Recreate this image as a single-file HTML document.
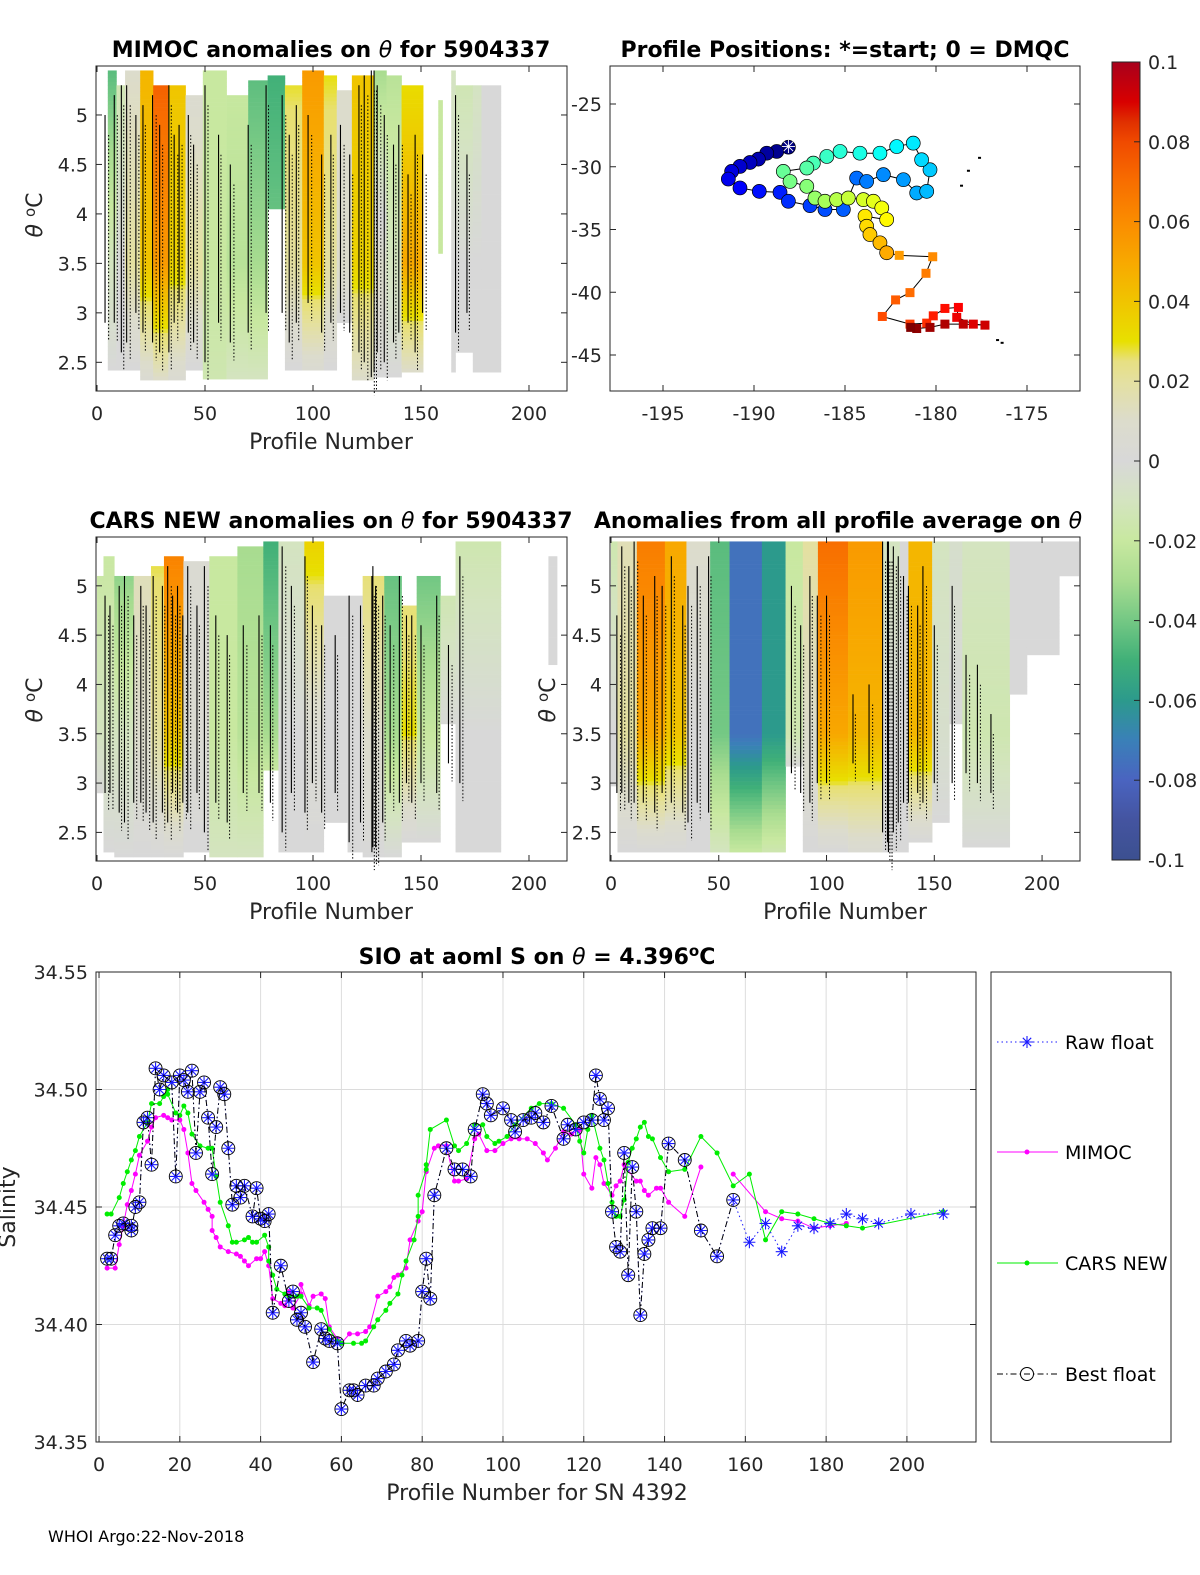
<!DOCTYPE html>
<html><head><meta charset="utf-8">
<style>
html,body{margin:0;padding:0;background:#fff;overflow:hidden;width:1200px;height:1575px;}
svg{display:block;font-family:"DejaVu Sans","Liberation Sans",sans-serif;}
.t{font-size:22px;font-weight:bold;fill:#000;}
.tk{font-size:19px;fill:#262626;}
.lb{font-size:22px;fill:#262626;}
</style></head>
<body>
<svg id="fig" width="1200" height="1575" viewBox="0 0 1200 1575" xmlns="http://www.w3.org/2000/svg">
<defs>
<linearGradient id="cbg" x1="0" y1="1" x2="0" y2="0"></linearGradient>
</defs>
<g id="p1"></g>
<g id="p2"></g>
<g id="p3"></g>
<g id="p4"></g>
<g id="p5"></g>
<g id="cb"></g>

<text class="t" x="331" y="57" text-anchor="middle">MIMOC anomalies on <tspan font-style="italic" font-weight="normal">θ</tspan>  for 5904337</text>
<text class="t" x="845" y="57" text-anchor="middle">Profile Positions: *=start; 0 = DMQC</text>
<text class="t" x="331" y="528" text-anchor="middle">CARS NEW anomalies on <tspan font-style="italic" font-weight="normal">θ</tspan> for 5904337</text>
<text class="t" x="838" y="528" text-anchor="middle">Anomalies from all profile average on <tspan font-style="italic" font-weight="normal">θ</tspan></text>
<text class="t" x="537" y="964" text-anchor="middle">SIO at aoml S on <tspan font-style="italic" font-weight="normal">θ</tspan> = 4.396<tspan dy="-8" font-size="15">o</tspan><tspan dy="8">C</tspan></text>

<text class="lb" x="331" y="449" text-anchor="middle">Profile Number</text>
<text class="lb" x="331" y="919" text-anchor="middle">Profile Number</text>
<text class="lb" x="845" y="919" text-anchor="middle">Profile Number</text>
<text class="lb" x="537" y="1500" text-anchor="middle">Profile Number for SN 4392</text>
<text class="lb" transform="translate(42,215) rotate(-90)" text-anchor="middle"><tspan font-style="italic">θ</tspan> <tspan dy="-7" font-size="15">o</tspan><tspan dy="7">C</tspan></text>
<text class="lb" transform="translate(42,700) rotate(-90)" text-anchor="middle"><tspan font-style="italic">θ</tspan> <tspan dy="-7" font-size="15">o</tspan><tspan dy="7">C</tspan></text>
<text class="lb" transform="translate(555,700) rotate(-90)" text-anchor="middle"><tspan font-style="italic">θ</tspan> <tspan dy="-7" font-size="15">o</tspan><tspan dy="7">C</tspan></text>
<text class="lb" transform="translate(15,1207) rotate(-90)" text-anchor="middle">Salinity</text>
<text x="48" y="1542" font-size="16" fill="#000">WHOI Argo:22-Nov-2018</text>
</svg>

<script>
// ---------- heatmap data: [p0,p1,thetaTop,thetaBot,anomTop,anomMid,anomBot] ----------
const h1Groups = [
[5,9,5.45,2.42,-0.045,-0.01,0],[9,13,5.3,2.42,-0.015,0.0,0],[13,20,5.45,2.42,0.01,0.02,0.0],
[20,26,5.45,2.32,0.045,0.04,0.005],[26,33,5.3,2.32,0.075,0.055,0.01],[33,41,5.3,2.32,0.04,0.035,0.005],
[41,49,5.2,2.42,0.005,0.02,0.0],[49,60,5.45,2.33,-0.02,-0.02,-0.015],[60,70,5.2,2.33,-0.02,-0.025,-0.01],
[70,79,5.35,2.33,-0.045,-0.03,-0.01],[79,87,5.4,4.05,-0.05,-0.04,-0.04],[87,95,5.3,2.42,0.03,0.02,0.0],
[95,105,5.45,2.42,0.055,0.04,0.005],[105,111,5.4,2.42,0.03,0.02,0.0],[111,118,5.25,2.9,0.01,0.01,0],
[118,128,5.4,2.32,0.04,0.035,0.01],[128,134,5.45,2.35,-0.03,0.01,0.0],[134,141,5.4,2.35,-0.025,-0.01,0],
[141,151,5.3,2.4,0.03,0.05,0.01],[158,160,5.15,3.6,-0.02,-0.02,-0.02],[164,166,5.45,2.4,-0.01,0.0,0.0],
[166,174,5.3,2.6,-0.015,0,0],[174,178,5.3,2.4,-0.01,0,0],[178,187,5.3,2.4,0,0,0]];
const h3Groups = [
[0,3,5.1,2.9,-0.02,-0.01,0],[3,8,5.3,2.3,-0.02,-0.01,0],[8,17,5.1,2.25,-0.04,-0.01,0],
[17,25,5.1,2.25,0.015,0.01,0],[25,31,5.2,2.25,0.03,0.02,0],[31,40,5.3,2.25,0.065,0.04,0.0],
[40,52,5.25,2.3,0.005,0.005,0],[52,65,5.3,2.25,-0.02,-0.02,-0.01],[65,77,5.4,2.25,-0.03,-0.025,-0.01],
[77,84,5.45,3.13,-0.05,-0.03,-0.02],[84,96,5.45,2.3,-0.01,0,0],[96,105,5.45,2.3,0.035,0.005,0],
[105,116,4.9,2.6,0,0,0],[116,123,4.9,2.3,0,0,0],[123,133,5.1,2.25,0.03,0.01,0],
[133,141,5.1,2.25,-0.045,-0.03,0],[141,148,4.8,2.4,0.025,0.03,0],[148,159,5.1,2.4,-0.045,-0.02,0],
[159,166,4.9,3.6,-0.02,0,0],[166,187,5.45,2.3,-0.015,0,0],[209,213,5.3,4.2,0,0,0]];
const h4Groups = [
[0,3,5.45,2.97,-0.015,0,0],[3,12,5.45,2.3,0.015,0.02,0],[12,25,5.45,2.3,0.065,0.05,0.0],
[25,35,5.45,2.3,0.05,0.04,0.0],[35,46,5.45,2.3,0.01,0.0,0],[46,55,5.45,2.3,-0.045,-0.04,-0.01],
[55,70,5.45,2.3,-0.075,-0.075,-0.02],[70,81,5.45,2.3,-0.06,-0.06,-0.015],[81,89,5.45,3.17,-0.02,-0.015,0],
[89,96,5.45,2.3,0.02,0.01,0],[96,110,5.45,2.3,0.07,0.05,0],[110,126,5.45,2.3,0.055,0.045,0.005],
[126,134,5.45,2.3,-0.01,0.0,0],[134,138,5.45,2.3,0.0,0,0],[138,149,5.45,2.4,0.045,0.045,0],
[149,157,5.45,2.6,-0.01,-0.005,0],[157,163,5.45,3.6,-0.005,0,0],[163,185,5.45,2.35,-0.01,-0.015,0],
[185,193,5.45,3.9,0,0,0],[193,208,5.45,4.3,0,0,0],[208,217,5.45,5.1,0,0,0]];
// contour lines: profile, top theta, bottom theta
const c1Prof=[4,8,11,14,18,21,26,29,33,36,38,42,45,50,56,62,70,78,86,89,92,98,104,108,113,117,121,124,127,128,130,133,137,140,144,147,151,166,171];
const c1Top=[5.0,5.2,5.3,5.3,5.0,5.1,5.2,4.9,5.3,4.8,4.9,5.0,4.7,5.3,4.8,4.5,4.9,5.3,5.2,4.8,5.1,5.0,4.6,4.8,4.9,4.6,5.3,5.4,5.45,5.45,5.3,5.0,4.7,4.9,4.4,4.8,4.6,5.2,4.6];
const c1Bot=[2.9,2.9,2.6,2.7,3.0,2.8,2.7,2.6,2.6,2.9,3.1,2.8,2.7,2.5,2.9,2.7,2.8,3.0,3.0,2.7,2.9,3.1,2.8,2.9,3.0,2.8,2.6,2.5,2.35,2.4,2.6,2.5,2.7,2.8,2.9,2.6,3.0,2.8,3.0];
const c3Prof=[4,6,10,13,17,20,23,26,30,33,35,37,40,42,46,50,55,60,68,75,80,86,90,96,100,104,110,117,122,127,128,129,132,136,140,143,146,150,157,163,168];
const c3Top=[4.9,4.8,5.0,5.1,4.7,5.0,4.8,5.1,5.0,5.2,4.9,5.0,4.7,5.2,4.8,5.2,4.7,4.5,4.6,4.7,4.6,5.4,5.0,5.3,4.8,4.6,4.5,4.9,4.8,5.1,5.2,5.0,4.9,4.6,5.1,4.7,4.7,4.6,4.9,4.4,5.3];
const c3Bot=[2.9,2.9,2.7,2.6,2.8,2.8,2.7,2.6,2.7,2.6,2.9,2.7,2.8,2.7,2.9,2.5,2.8,2.6,2.9,2.9,2.8,2.5,2.9,2.7,3.0,2.7,2.9,2.4,2.6,2.3,2.35,2.35,2.6,2.9,2.8,3.0,2.8,3.0,2.9,3.2,3.0];
const c4Prof=[3,5,8,11,15,20,24,28,33,36,40,45,84,88,92,96,100,112,120,126,128,129,131,133,136,138,142,145,150,158,165,170,176];
const c4Top=[4.7,5.4,5.2,5.45,4.9,5.1,5.0,5.3,4.8,5.0,5.2,5.3,5.0,4.6,5.1,4.9,4.9,3.9,4.0,5.45,5.45,5.45,5.4,5.3,5.1,5.0,4.8,5.2,4.6,5.0,4.3,4.2,3.7];
const c4Bot=[2.9,2.9,2.8,2.8,2.8,2.7,2.9,2.8,2.7,2.6,2.8,2.7,3.1,2.9,2.8,3.0,3.0,3.2,3.1,2.5,2.4,2.3,2.5,2.6,2.8,2.8,2.9,2.8,3.0,3.0,3.1,3.0,2.9];

// ---------- map data ----------
const trackLon=[-188.11,-188.75,-189.30,-189.76,-190.22,-190.77,-191.23,-191.41,-190.77,-189.71,-188.57,-188.11,-186.92,-186.10,-185.09,-184.36,-183.81,-182.89,-181.79,-181.06,-180.51,-180.33,-180.79,-181.25,-182.16,-183.08,-184.18,-185.27,-186.0,-186.74,-187.10,-188.39,-188.02,-187.10,-186.65,-186.10,-185.46,-184.82,-183.99,-183.44,-182.98,-182.71,-183.90,-183.81,-183.63,-183.08,-182.71,
-182.02,-180.18,-180.55,-181.43,-182.22,-182.95,-181.43,-180.51,-180.15,-179.51,-178.77,-178.86,-177.95,-177.31,-178.50,-179.51,-180.33,-181.06,-181.39];
const trackLat=[-28.44,-28.78,-28.92,-29.39,-29.66,-29.97,-30.37,-30.98,-31.69,-31.96,-32.04,-32.75,-33.10,-33.41,-33.41,-30.90,-31.17,-30.63,-31.03,-32.09,-31.96,-30.24,-29.44,-28.12,-28.39,-28.92,-28.92,-28.78,-29.18,-29.71,-30.10,-30.37,-31.17,-31.56,-32.49,-32.75,-32.62,-32.49,-32.62,-32.75,-33.28,-34.21,-33.94,-34.74,-35.40,-36.06,-36.85,
-37.06,-37.17,-38.49,-40.03,-40.61,-41.93,-42.54,-42.46,-41.88,-41.29,-41.21,-42.00,-42.54,-42.62,-42.54,-42.54,-42.80,-42.89,-42.80];
const dmqcCount = 47;
const extraLon=[-177.69,-178.30,-178.68,-176.70,-176.45];
const extraLat=[-29.21,-30.24,-31.43,-43.73,-43.95];

// ---------- salinity series ----------
const bestProf=[2,3,4,5,6,8,8,9,10,11,12,13,14,15,16,18,19,20,21,22,23,24,25,26,27,28,29,30,31,32,33,34,35,36,38,39,40,41,42,43,45,47,48,49,50,51,53,55,56,57,59,60,62,63,64,66,68,69,71,73,74,76,77,79,80,81,82,83,86,88,90,92,93,95,96,97,100,102,103,105,107,108,110,112,115,116,118,120,122,123,124,125,126,127,128,129,130,131,132,133,134,135,136,137,139,141,145,149,153,157];
const bestVal=[34.428,34.428,34.438,34.442,34.443,34.442,34.440,34.450,34.452,34.486,34.488,34.468,34.509,34.500,34.506,34.503,34.463,34.506,34.504,34.499,34.508,34.473,34.499,34.503,34.488,34.464,34.484,34.501,34.498,34.475,34.451,34.459,34.454,34.459,34.446,34.458,34.445,34.444,34.447,34.405,34.425,34.410,34.414,34.402,34.405,34.399,34.384,34.398,34.394,34.393,34.392,34.364,34.372,34.372,34.370,34.374,34.374,34.377,34.380,34.383,34.389,34.393,34.391,34.393,34.414,34.428,34.411,34.455,34.475,34.466,34.466,34.463,34.483,34.498,34.494,34.489,34.492,34.487,34.482,34.487,34.488,34.490,34.486,34.493,34.479,34.485,34.483,34.486,34.487,34.506,34.496,34.487,34.492,34.448,34.433,34.431,34.473,34.421,34.467,34.448,34.404,34.430,34.436,34.441,34.441,34.477,34.470,34.440,34.429,34.453];
const rawExtraProf=[161,165,169,173,177,181,185,189,193,201,209];
const rawExtraVal=[34.435,34.443,34.431,34.442,34.441,34.443,34.447,34.445,34.443,34.447,34.447];
const mimocProf=[2,4,5,6,7,8,9,10,12,13,14,16,17,18,20,21,22,23,24,26,27,28,28,29,30,32,34,35,36,37,39,40,41,42,43,45,46,47,48,50,50,52,53,55,56,57,59,60,62,64,66,67,69,71,72,73,74,76,77,79,80,81,83,84,86,88,89,91,93,94,96,98,100,102,104,106,108,110,111,113,115,117,119,120,122,123,124,125,127,128,129,130,133,134,135,136,138,139,141,145,149];
const mimocVal=[34.424,34.424,34.434,34.442,34.451,34.457,34.464,34.472,34.478,34.484,34.488,34.489,34.488,34.487,34.487,34.483,34.473,34.460,34.457,34.452,34.449,34.446,34.440,34.437,34.433,34.431,34.430,34.429,34.427,34.425,34.428,34.428,34.431,34.425,34.411,34.409,34.408,34.414,34.407,34.413,34.417,34.408,34.412,34.413,34.411,34.399,34.394,34.392,34.396,34.396,34.397,34.399,34.412,34.414,34.416,34.420,34.421,34.424,34.436,34.444,34.448,34.465,34.475,34.476,34.476,34.461,34.461,34.462,34.479,34.481,34.474,34.474,34.477,34.479,34.479,34.479,34.477,34.473,34.470,34.475,34.482,34.481,34.483,34.464,34.458,34.471,34.468,34.460,34.455,34.459,34.461,34.468,34.461,34.461,34.457,34.455,34.458,34.458,34.452,34.446,34.467];
const mimocTailProf=[157,165,169,173,177,181,185];
const mimocTailVal=[34.464,34.448,34.445,34.444,34.441,34.442,34.443];
const carsProf=[2,3,5,6,7,8,9,10,12,13,15,16,17,17,19,20,21,22,23,25,27,28,29,30,32,33,34,36,37,38,39,41,42,42,43,44,46,47,49,50,52,54,55,57,59,60,63,65,66,68,69,71,72,74,75,76,78,79,79,81,81,82,86,88,89,91,93,95,96,98,99,101,103,107,109,112,115,118,119,120,121,122,124,125,126,127,128,129,130,131,132,133,134,135,136,137,139,141,145,149,153,157,161,165,169,173,177,181,185,189,209];
const carsVal=[34.447,34.447,34.454,34.460,34.465,34.470,34.474,34.480,34.486,34.494,34.494,34.497,34.500,34.498,34.490,34.489,34.493,34.490,34.481,34.476,34.475,34.475,34.463,34.452,34.442,34.435,34.435,34.436,34.437,34.435,34.435,34.438,34.433,34.427,34.421,34.415,34.413,34.412,34.412,34.412,34.407,34.407,34.406,34.398,34.393,34.392,34.392,34.392,34.393,34.399,34.402,34.406,34.409,34.413,34.421,34.427,34.436,34.446,34.455,34.466,34.468,34.483,34.487,34.476,34.474,34.477,34.485,34.485,34.480,34.477,34.478,34.480,34.485,34.492,34.494,34.494,34.492,34.485,34.478,34.473,34.483,34.489,34.475,34.470,34.460,34.452,34.446,34.446,34.453,34.469,34.475,34.479,34.484,34.486,34.480,34.479,34.471,34.465,34.466,34.480,34.473,34.459,34.464,34.436,34.448,34.447,34.445,34.443,34.442,34.441,34.448];
const salTicks=[34.35,34.4,34.45,34.5,34.55];
const profTicks=[0,20,40,60,80,100,120,140,160,180,200];

// ---------- helpers ----------
const NS='http://www.w3.org/2000/svg';
function el(tag, attrs, parent){const e=document.createElementNS(NS,tag);for(const k in attrs)e.setAttribute(k,attrs[k]);parent.appendChild(e);return e;}
const stops=[[-0.1,[60,80,144]],[-0.09,[68,84,160]],[-0.08,[74,100,192]],[-0.07,[58,128,184]],[-0.06,[44,154,140]],[-0.05,[64,176,120]],[-0.04,[116,200,132]],[-0.03,[168,220,144]],[-0.02,[200,232,160]],[-0.01,[212,228,192]],[0,[216,216,216]],[0.01,[220,220,204]],[0.02,[228,224,160]],[0.028,[232,224,112]],[0.03,[232,224,0]],[0.04,[240,196,0]],[0.05,[248,168,0]],[0.06,[250,140,0]],[0.07,[248,110,0]],[0.08,[240,74,0]],[0.085,[224,48,0]],[0.09,[216,0,0]],[0.1,[168,0,28]]];
function cmap(v){v=Math.max(-0.1,Math.min(0.1,v));for(let i=0;i<stops.length-1;i++){const a=stops[i],b=stops[i+1];if(v<=b[0]){const t=(v-a[0])/(b[0]-a[0]);const c=a[1].map((x,j)=>Math.round(x+(b[1][j]-x)*t));return `rgb(${c[0]},${c[1]},${c[2]})`;}}return 'rgb(168,0,28)';}
function jet(t){const f=x=>Math.round(255*Math.max(0,Math.min(1,x)));return `rgb(${f(1.5-Math.abs(4*t-3))},${f(1.5-Math.abs(4*t-2))},${f(1.5-Math.abs(4*t-1))})`;}
function lin(d0,d1,r0,r1){return v=>r0+(v-d0)*(r1-r0)/(d1-d0);}

function axesBox(g,x0,y0,x1,y1,name){
  const r=el('rect',{x:x0,y:y0,width:x1-x0,height:y1-y0,fill:'none',stroke:'#262626','stroke-width':1},g);
  
  
}
function xTicks(g,vals,xs,y0,y1,labY){
  vals.forEach(v=>{const x=xs(v);
    const t1=el('line',{x1:x,x2:x,y1:y1,y2:y1-6,stroke:'#262626'},g);
    
    
    const t2=el('line',{x1:x,x2:x,y1:y0,y2:y0+6,stroke:'#262626'},g);
    
    
    const l=el('text',{x:x,y:labY,'text-anchor':'middle',class:'tk'},g);l.textContent=v;
    
    
  });
}
function yTicks(g,vals,ys,x0,x1,labX,fmt){
  vals.forEach(v=>{const y=ys(v);
    const t1=el('line',{x1:x0,x2:x0+6,y1:y,y2:y,stroke:'#262626'},g);
    
    
    const t2=el('line',{x1:x1,x2:x1-6,y1:y,y2:y,stroke:'#262626'},g);
    
    
    const l=el('text',{x:labX,y:y+7,'text-anchor':'end',class:'tk'},g);l.textContent=fmt?fmt(v):v;
    
    
  });
}
function heat(g,groups,cP,cT,cB,x0,y0,x1,y1){
  const xs=lin(0,217.6,x0+1,x1), ys=lin(5.495,2.21,y0,y1);
  groups.forEach(gr=>{const [p0,p1,tt,tb,aT,aM,aB]=gr;const step=0.04;
    for(let th=tb;th<tt;th+=step){const top=Math.min(tt,th+step);const mid=(th+top)/2;
      let a= mid>=3.5 ? aM+(aT-aM)*(mid-3.5)/(5.45-3.5) : aB+(aM-aB)*(mid-tb)/Math.max(0.01,3.5-tb);
      const r=el('rect',{x:xs(p0),y:ys(top),width:xs(p1)-xs(p0)+0.3,height:ys(th)-ys(top)+0.3,fill:cmap(a)},g);
      
      
    }});
  cP.forEach((p,i)=>{
    const yt=ys(cT[i]), yb=ys(cB[i]);let pts=[];
    for(let k=0;k<=8;k++){const y=yt+(yb-yt)*k/8;const dx=((k*3+i)%3-1)*0.6;pts.push((xs(p)+dx)+','+y);}
    const l=el('polyline',{points:pts.join(' '),fill:'none',stroke:'#000','stroke-width':1.1},g);
    
    
    const d=el('line',{x1:xs(p)+3,x2:xs(p)+3,y1:yt+20,y2:yb+18,stroke:'#000','stroke-width':1,'stroke-dasharray':'1.5 2'},g);
    
    
  });
  return [xs,ys];
}

// ---------- panel 1 ----------
(function(){const g=document.getElementById('p1');const [xs,ys]=heat(g,h1Groups,c1Prof,c1Top,c1Bot,96,66,567,391);
 axesBox(g,96,66,567,391,'p1-axes-box');xTicks(g,[0,50,100,150,200],xs,66,391,420);yTicks(g,[2.5,3,3.5,4,4.5,5],ys,96,567,88);})();
// ---------- panel 3 ----------
(function(){const g=document.getElementById('p3');const [xs,ys]=heat(g,h3Groups,c3Prof,c3Top,c3Bot,96,537,567,861);
 axesBox(g,96,537,567,861,'p3-axes-box');xTicks(g,[0,50,100,150,200],xs,537,861,890);yTicks(g,[2.5,3,3.5,4,4.5,5],ys,96,567,88);})();
// ---------- panel 4 ----------
(function(){const g=document.getElementById('p4');const [xs,ys]=heat(g,h4Groups,c4Prof,c4Top,c4Bot,610,537,1080,861);
 axesBox(g,610,537,1080,861,'p4-axes-box');xTicks(g,[0,50,100,150,200],xs,537,861,890);yTicks(g,[2.5,3,3.5,4,4.5,5],ys,610,1080,602);})();
// ---------- panel 2 map ----------
(function(){const g=document.getElementById('p2');
 const xs=lin(-195,-175,663,1027), ys=lin(-25,-45,104,355);
 axesBox(g,610,66,1080,391,'map-axes-box');
 xTicks(g,[-195,-190,-185,-180,-175],xs,66,391,420);yTicks(g,[-45,-40,-35,-30,-25],ys,610,1080,602);
 const pts=trackLon.map((lo,i)=>xs(lo)+','+ys(trackLat[i])).join(' ');
 const pl=el('polyline',{points:pts,fill:'none',stroke:'#000','stroke-width':1},g);
 
 
 const n=trackLon.length;
 trackLon.forEach((lo,i)=>{const c=jet(i/(n-1));const x=xs(lo),y=ys(trackLat[i]);let m;
   if(i<dmqcCount){m=el('circle',{cx:x,cy:y,r:7,fill:c,stroke:'#000','stroke-width':0.7},g);}
   else{m=el('rect',{x:x-4.5,y:y-4.5,width:9,height:9,fill:c},g);}
   });
 const s=el('text',{x:xs(trackLon[0]),y:ys(trackLat[0])+6,'text-anchor':'middle','font-size':18,fill:'#fff'},g);s.textContent='✳';
 
 
 extraLon.forEach((lo,i)=>{const d=el('rect',{x:xs(lo),y:ys(extraLat[i]),width:3,height:2,fill:'#000'},g);
   
   });
})();
// ---------- colorbar ----------
(function(){const g=document.getElementById('cb');const grad=document.getElementById('cbg');
 for(let i=0;i<=40;i++){const v=-0.1+i*0.005;const st=el('stop',{offset:(i/40),'stop-color':cmap(v)},grad);
   
   }
 const r=el('rect',{x:1112,y:62,width:28,height:798,fill:'url(#cbg)',stroke:'#262626'},g);
 
 
 const ys=lin(-0.1,0.1,860,62);
 [-0.1,-0.08,-0.06,-0.04,-0.02,0,0.02,0.04,0.06,0.08,0.1].forEach(v=>{
   const t=el('line',{x1:1134,x2:1140,y1:ys(v),y2:ys(v),stroke:'#262626'},g);
   
   
   const l=el('text',{x:1148,y:ys(v)+7,class:'tk'},g);l.textContent=String(Math.round(v*100)/100);
   
   });
})();
// ---------- salinity chart ----------
(function(){const g=document.getElementById('p5');
 const x0=96,x1=976,y0=972,y1=1442;
 const xs=lin(-0.75,217.1,x0,x1), ys=lin(34.35,34.55,y1,y0);
 profTicks.forEach(v=>{const l=el('line',{x1:xs(v),x2:xs(v),y1:y0,y2:y1,stroke:'#dcdcdc'},g);
   
   });
 salTicks.forEach(v=>{const l=el('line',{x1:x0,x2:x1,y1:ys(v),y2:ys(v),stroke:'#dcdcdc'},g);
   
   });
 function line(P,V,color,dash,w,name){const pl=el('polyline',{points:P.map((p,i)=>xs(p)+','+ys(V[i])).join(' '),fill:'none',stroke:color,'stroke-width':w,'stroke-dasharray':dash},g);
   
   }
 function dots(P,V,color,name){P.forEach((p,i)=>{const c=el('circle',{cx:xs(p),cy:ys(V[i]),r:2.5,fill:color},g);
   
   });}
 function star(x,y,parent){const s=6;const p=`M${x-s},${y}L${x+s},${y}M${x},${y-s}L${x},${y+s}M${x-s*0.7},${y-s*0.7}L${x+s*0.7},${y+s*0.7}M${x-s*0.7},${y+s*0.7}L${x+s*0.7},${y-s*0.7}`;
   return el('path',{d:p,stroke:'#1a1aff','stroke-width':1.1,fill:'none'},parent);}
 const rawProf=bestProf.concat(rawExtraProf), rawVal=bestVal.concat(rawExtraVal);
 line(mimocProf,mimocVal,'#ff00ff','none',1,'mimoc-line');dots(mimocProf,mimocVal,'#ff00ff','mimoc-point');
 line(mimocTailProf,mimocTailVal,'#ff00ff','none',1,'mimoc-tail-line');dots(mimocTailProf,mimocTailVal,'#ff00ff','mimoc-point');
 line(carsProf,carsVal,'#00ee00','none',1,'cars-line');dots(carsProf,carsVal,'#00ee00','cars-point');
 line(rawProf,rawVal,'#1a1aff','1.5 3',1,'raw-float-line');
 rawProf.forEach((p,i)=>{const s=star(xs(p),ys(rawVal[i]),g);
   });
 line(bestProf,bestVal,'#000','6 3 1.5 3',1,'best-float-line');
 bestProf.forEach((p,i)=>{const c=el('circle',{cx:xs(p),cy:ys(bestVal[i]),r:6.5,fill:'none',stroke:'#000','stroke-width':0.9},g);
   
   });
 axesBox(g,x0,y0,x1,y1,'salinity-axes-box');
 xTicks(g,profTicks,xs,y0,y1,1471);
 yTicks(g,salTicks,ys,x0,x1,88,v=>v.toFixed(2));
 const lg=el('g',{},g);
 
 
 const lb=el('rect',{x:991,y:972,width:180,height:470,fill:'#fff',stroke:'#262626'},lg);
 
 
 const entries=[['Raw float','#1a1aff','1.5 3',1042],['MIMOC','#ff00ff','none',1152],['CARS NEW','#00ee00','none',1263],['Best float','#000','6 3 1.5 3',1374]];
 entries.forEach((e,i)=>{const ln=el('line',{x1:997,x2:1058,y1:e[3],y2:e[3],stroke:e[1],'stroke-dasharray':e[2]},lg);
   
   
   let m;
   if(i===0){m=star(1027,e[3],lg);}
   else if(i===3){m=el('circle',{cx:1027,cy:e[3],r:6.5,fill:'none',stroke:'#000'},lg);}
   else{m=el('circle',{cx:1027,cy:e[3],r:2.5,fill:e[1]},lg);}
   
   
   const t=el('text',{x:1065,y:e[3]+7,'font-size':19,fill:'#000'},lg);t.textContent=e[0];
   
   });
})();
</script>
</body></html>
